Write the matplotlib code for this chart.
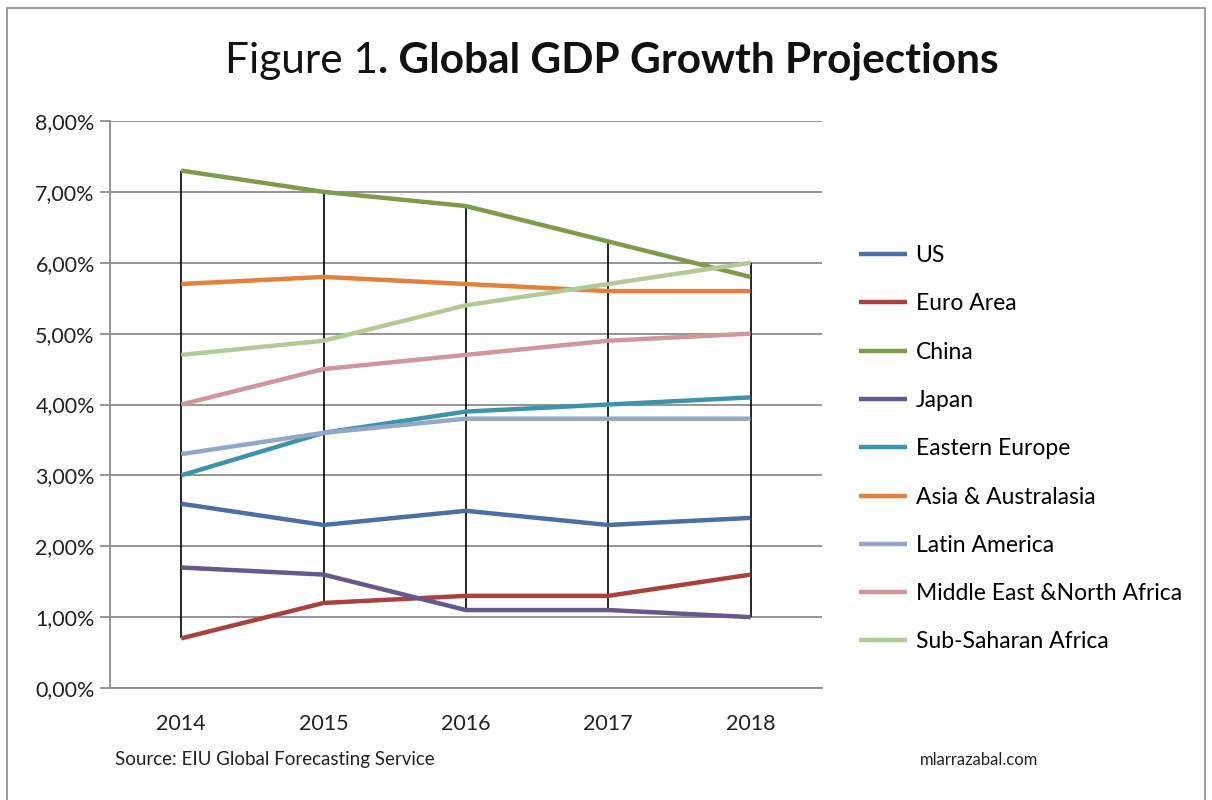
import matplotlib

matplotlib.use('agg')
import matplotlib.pyplot as plt
from matplotlib.ticker import FuncFormatter
from matplotlib.patches import Rectangle

plt.rcParams['font.family'] = ['Lato', 'DejaVu Sans']

# EIU projections, % growth
years = ['2014', '2015', '2016', '2017', '2018']
us = [2.6, 2.3, 2.5, 2.3, 2.4]
euro_area = [0.7, 1.2, 1.3, 1.3, 1.6]
china = [7.3, 7.0, 6.8, 6.3, 5.8]
japan = [1.7, 1.6, 1.1, 1.1, 1.0]
eastern_europe = [3.0, 3.6, 3.9, 4.0, 4.1]
asia_australasia = [5.7, 5.8, 5.7, 5.6, 5.6]
latin_america = [3.3, 3.6, 3.8, 3.8, 3.8]
mena = [4.0, 4.5, 4.7, 4.9, 5.0]
sub_saharan = [4.7, 4.9, 5.4, 5.7, 6.0]

series = [
    ('US', us, '#4a6fa5'),
    ('Euro Area', euro_area, '#a9423f'),
    ('China', china, '#7e9a4a'),
    ('Japan', japan, '#66588a'),
    ('Eastern Europe', eastern_europe, '#3d93aa'),
    ('Asia & Australasia', asia_australasia, '#e2803c'),
    ('Latin America', latin_america, '#93a7c8'),
    ('Middle East &North Africa', mena, '#cf979b'),
    ('Sub-Saharan Africa', sub_saharan, '#b3ca97'),
]

fig = plt.figure(figsize=(12.12, 8), dpi=100)
ax = fig.add_axes([0.0908, 0.14, 0.5872, 0.70875])

x = list(range(len(years)))

# high-low lines between the top and bottom series at each year
highs = [max(s[1][i] for s in series) for i in x]
lows = [min(s[1][i] for s in series) for i in x]
ax.vlines(x, lows, highs, color='black', lw=1.2, zorder=2)

for name, vals, col in series:
    ax.plot(x, vals, color=col, lw=3.2, label=name, zorder=3,
            solid_capstyle='butt')

ax.set_xlim(-0.5, len(years) - 0.5)
ax.set_ylim(0, 8)
ax.set_yticks(range(0, 9))
ax.yaxis.set_major_formatter(
    FuncFormatter(lambda v, p: ('%.2f%%' % v).replace('.', ',')))
ax.set_xticks(x)
ax.set_xticklabels(years)
ax.grid(axis='y', color='#8c8c8c', lw=1.3, zorder=0)
ax.set_axisbelow(True)

for side in ['top', 'right']:
    ax.spines[side].set_visible(False)
for side in ['left', 'bottom']:
    ax.spines[side].set_color('#8c8c8c')
    ax.spines[side].set_linewidth(1.3)
ax.tick_params(axis='y', length=7, width=1.3, color='#8c8c8c',
               labelsize=15.5, pad=4, labelcolor='#222222')
ax.tick_params(axis='x', length=0, labelsize=15.5, pad=19,
               labelcolor='#222222')

fig.legend(loc='upper left', bbox_to_anchor=(0.7013, 0.705), frameon=False,
           fontsize=16.5, labelspacing=1.19, handlelength=2.1,
           handletextpad=0.36, borderaxespad=0)

# title: plain prefix then bold remainder, centred as one line
t1 = fig.text(0, 0.924, 'Figure 1', fontsize=30.5, va='center',
              ha='left', color='#111111')
t2 = fig.text(0, 0.924, '. Global GDP Growth Projections',
              fontsize=30.5, fontweight='bold', va='center', ha='left',
              color='#111111')
fig.canvas.draw()
w1 = t1.get_window_extent().width / fig.bbox.width
w2 = t2.get_window_extent().width / fig.bbox.width
x0 = 0.505 - (w1 + w2) / 2
t1.set_x(x0)
t2.set_x(x0 + w1)

fig.text(0.095, 0.05, 'Source: EIU Global Forecasting Service', fontsize=13.5,
         va='center', ha='left', color='#222222')
fig.text(0.759, 0.05, 'mlarrazabal.com', fontsize=12, va='center',
         ha='left', color='#222222')

fig.patches.append(Rectangle((0.006, -0.01), 0.988, 1.0, transform=fig.transFigure,
                             fill=False, ec='#8c8c8c', lw=1.2))

fig.savefig('out.png', dpi=100)
